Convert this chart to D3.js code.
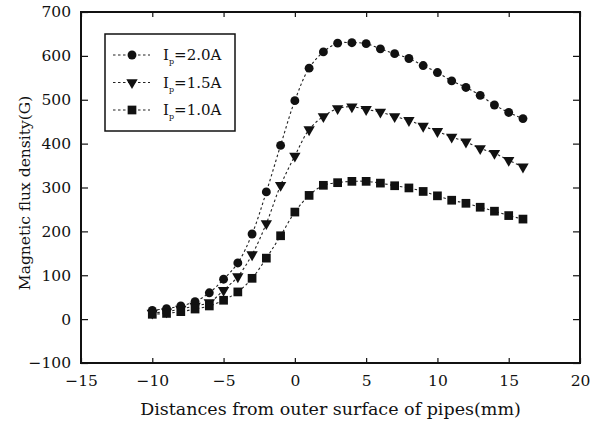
<!DOCTYPE html>
<html lang="en">
<head>
<meta charset="UTF-8">
<script src="https://d3js.org/d3.v7.min.js"></script>
<style>
body { margin:0; background:#fff; }
text { font-family: "DejaVu Serif", "Liberation Serif", serif; fill:#111; }
.line { fill:none; stroke:#222; stroke-width:1.1px; stroke-dasharray:2.5,2.5; }
</style>
<title>Magnetic flux density</title>
</head>
<body>
<script>
// distances (mm)
var distances = [-10,-9,-8,-7,-6,-5,-4,-3,-2,-1,0,1,2,3,4,5,6,7,8,9,10,11,12,13,14,15,16];
var flux20 = [20,24,30,40,60,91,128,194,290,396,498,572,609,629,630,628,616,605,594,578,562,543,528,510,488,471,457];
var flux15 = [14,17,23,30,38,66,97,147,218,305,372,432,462,480,484,478,472,462,453,440,428,415,404,389,378,362,347];
var flux10 = [11,13,17,23,30,43,62,93,139,190,244,282,305,311,314,314,310,304,299,291,281,271,264,255,246,236,228];
var seriesLabels = ["=2.0A", "=1.5A", "=1.0A"];
var xTicks = [-15,-10,-5,0,5,10,15,20];
var yTicks = [-100,0,100,200,300,400,500,600,700];

var W = 599, H = 425;
var margin = {top: 12, right: 19, bottom: 62, left: 81},
    width = W - margin.left - margin.right,
    height = H - margin.top - margin.bottom;

var svg = d3.select("body").append("svg")
    .attr("width", W).attr("height", H);
var g = svg.append("g")
    .attr("transform", "translate(" + margin.left + "," + margin.top + ")");

var x = d3.scaleLinear().domain([-15, 20]).range([0, width]);
var y = d3.scaleLinear().domain([-100, 700]).range([height, 0]);

// axes, ticks pointing inwards
g.append("g").attr("transform", "translate(0," + height + ")")
  .call(d3.axisBottom(x).tickValues(xTicks).tickSizeInner(-5).tickSizeOuter(0).tickPadding(12).tickFormat(d3.format("d")))
  .call(function(a){ a.select(".domain").remove(); a.selectAll("text").style("font-size","15.5px"); });
g.append("g")
  .call(d3.axisTop(x).tickValues(xTicks).tickSizeInner(-5).tickSizeOuter(0).tickFormat(""))
  .call(function(a){ a.select(".domain").remove(); });
g.append("g")
  .call(d3.axisLeft(y).tickValues(yTicks).tickSizeInner(-7).tickSizeOuter(0).tickPadding(10).tickFormat(d3.format("d")))
  .call(function(a){ a.select(".domain").remove(); a.selectAll("text").style("font-size","15.5px"); });
g.append("g").attr("transform", "translate(" + width + ",0)")
  .call(d3.axisRight(y).tickValues(yTicks).tickSizeInner(-7).tickSizeOuter(0).tickFormat(""))
  .call(function(a){ a.select(".domain").remove(); });
g.selectAll(".tick line").attr("stroke", "#111").attr("stroke-width", 1.2);

g.append("rect").attr("width", width).attr("height", height)
  .attr("fill", "none").attr("stroke", "#111").attr("stroke-width", 2);

// axis titles
svg.append("text")
  .attr("x", margin.left + width / 2 + 0).attr("y", 415)
  .attr("text-anchor", "middle").style("font-size", "17.5px")
  .text("Distances from outer surface of pipes(mm)");
svg.append("text")
  .attr("transform", "translate(30," + (margin.top + 181) + ") rotate(-90)")
  .attr("text-anchor", "middle").style("font-size", "15.5px")
  .text("Magnetic flux density(G)");

// series
var series = [flux20, flux15, flux10];
var shapes = [d3.symbolCircle, d3.symbolTriangle, d3.symbolSquare];
var sizes = [62, 56, 76];

var line = d3.line()
  .x(function(d, i) { return x(distances[i]); })
  .y(function(d) { return y(d); })
  .curve(d3.curveCatmullRom);

function marker(sel, k) {
  sel.attr("d", d3.symbol().type(shapes[k]).size(sizes[k]))
    .attr("fill", "#111");
}

series.forEach(function(vals, k) {
  g.append("path").datum(vals).attr("class", "line").attr("d", line);
  g.selectAll(".m" + k).data(vals).enter().append("path")
    .attr("class", "m" + k)
    .attr("transform", function(d, i) {
      return "translate(" + x(distances[i]) + "," + y(d) + ")" + (k == 1 ? " rotate(180)" : "");
    })
    .call(marker, k);
});

// legend
var leg = g.append("g").attr("transform", "translate(24,22)");
leg.append("rect").attr("width", 130).attr("height", 97)
  .attr("fill", "#fff").attr("stroke", "#111").attr("stroke-width", 1.5);
seriesLabels.forEach(function(lab, k) {
  var ly = 21 + k * 27.5;
  leg.append("line").attr("class", "line").attr("x1", 8).attr("x2", 45).attr("y1", ly).attr("y2", ly);
  leg.append("path").attr("transform", "translate(27," + ly + ")" + (k == 1 ? " rotate(180)" : ""))
    .call(marker, k);
  var t = leg.append("text").attr("x", 58).attr("y", ly + 5).style("font-size", "15px");
  t.append("tspan").text("I");
  t.append("tspan").attr("dy", 4).style("font-size", "8px").text("p");
  t.append("tspan").attr("dy", -4).text(lab);
});
</script>
</body>
</html>
